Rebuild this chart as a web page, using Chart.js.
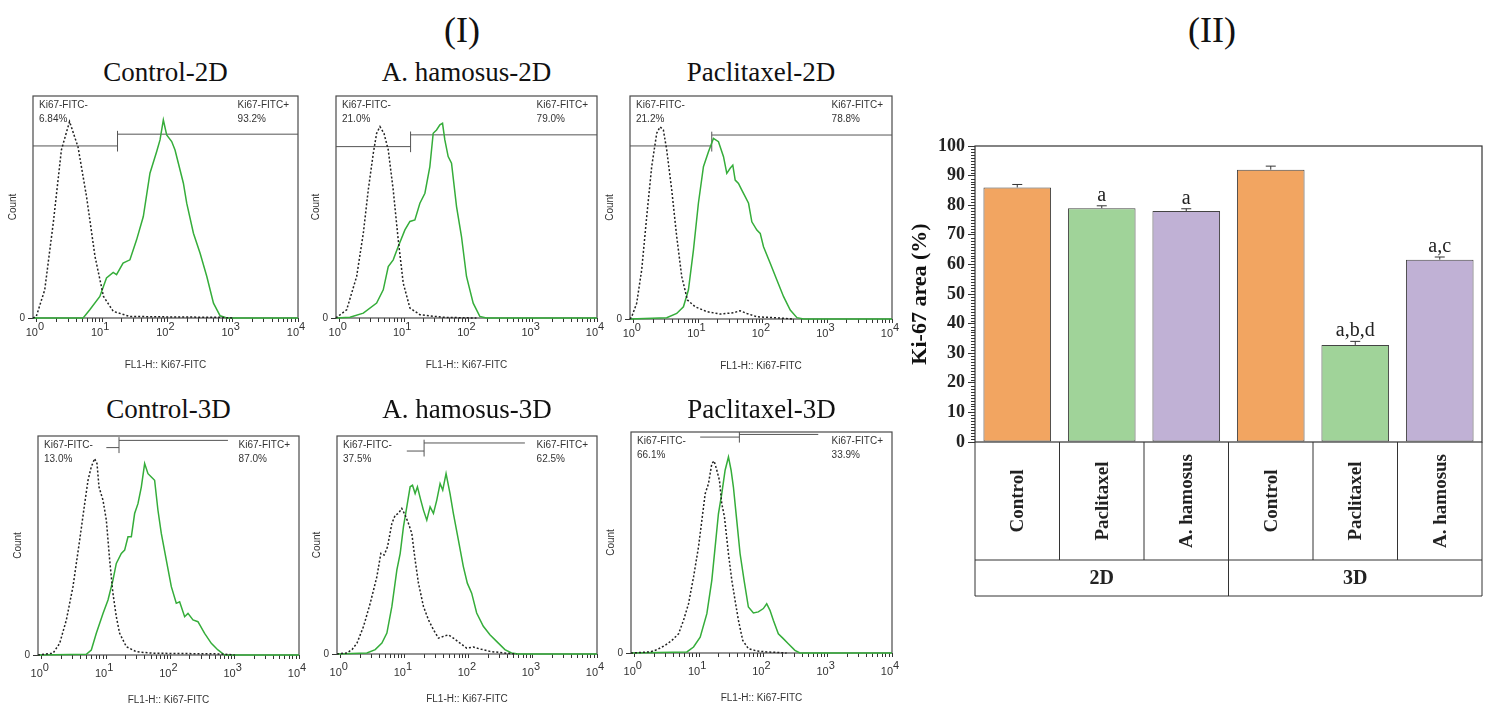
<!DOCTYPE html>
<html>
<head>
<meta charset="utf-8">
<script src="https://cdn.jsdelivr.net/npm/chart.js@4.4.0/dist/chart.umd.min.js"></script>
<style>
  body { margin: 0; background: #fff; }
  #fig { position: relative; width: 1486px; height: 709px; overflow: hidden; background: #fff; }
  #fig canvas { position: absolute; }
  .ttl { position: absolute; transform: translate(-50%, -50%); white-space: nowrap; line-height: 1;
         font-family: 'Liberation Serif', 'Times New Roman', serif; color: #111; }
</style>
</head>
<body>
<div id="fig">
  <div class="ttl" style="left:462px;top:30px;font-size:36px">(I)</div>
  <div class="ttl" style="left:1212px;top:30px;font-size:36px">(II)</div>
</div>
<script>
const serif = "'Liberation Serif', 'Times New Roman', serif";
const sans = "'Liberation Sans', Arial, sans-serif";

// ---- (I) flow cytometry histograms: x = log10(FL1-H), y = % of panel max count ----
const histTitles = ['Control-2D', 'A. hamosus-2D', 'Paclitaxel-2D', 'Control-3D', 'A. hamosus-3D', 'Paclitaxel-3D'];
const negPercents = ['6.84%', '21.0%', '21.2%', '13.0%', '37.5%', '66.1%'];
const posPercents = ['93.2%', '79.0%', '78.8%', '87.0%', '62.5%', '33.9%'];
const decadeExps = ['0', '1', '2', '3', '4'];

// isotype (dotted black) curves
const ctrl2dIso = [[-0.06,0],[-0.01,0.7],[0.12,12.7],[0.25,42.7],[0.375,75.7],[0.5,88.5],[0.63,77],[0.76,54.7],[0.89,27.7],[1.02,9.7],[1.17,3],[1.42,0.7],[2.0,0.5],[2.81,0.3],[3.0,0]];
const hamo2dIso = [[-0.06,0],[-0.05,0.3],[0.106,3.7],[0.261,18.7],[0.365,38.2],[0.442,57.7],[0.52,74.2],[0.572,83.2],[0.624,86.2],[0.686,83.2],[0.753,75.7],[0.83,57.7],[0.908,35.2],[0.986,15.7],[1.09,4.5],[1.245,1.5],[1.607,0.3],[2.125,0]];
const pacl2dIso = [[-0.06,0],[-0.034,1],[0.043,7],[0.121,22],[0.199,45.9],[0.276,68.3],[0.354,83.3],[0.406,86.2],[0.457,84.8],[0.509,75.8],[0.587,57.8],[0.664,36.9],[0.742,19],[0.83,8.5],[0.949,5.5],[1.13,3.3],[1.337,2.2],[1.544,2.8],[1.647,3.7],[1.751,2.5],[1.906,1],[2.165,0.6],[2.475,0]];
const ctrl3dIso = [[-0.06,0],[0.173,0.8],[0.277,5.3],[0.381,16],[0.484,31.2],[0.588,52.4],[0.666,69.1],[0.718,79.8],[0.769,85.9],[0.821,89.7],[0.858,87.4],[0.889,76.7],[0.951,70.7],[1.003,61.6],[1.055,43.3],[1.106,28.1],[1.158,17.5],[1.21,9.9],[1.314,3.8],[1.469,1.5],[1.728,0.8],[2.765,0.5],[3.0,0]];
const hamo3dIso = [[-0.06,0],[0.096,0.5],[0.174,2],[0.252,5],[0.355,12.7],[0.459,23.3],[0.563,35.5],[0.625,46.2],[0.677,45.4],[0.729,49.2],[0.797,59.9],[0.849,63.7],[0.9,64.5],[0.952,66.8],[1.004,63.7],[1.056,59.9],[1.108,55.3],[1.16,43.1],[1.212,32.5],[1.29,21.8],[1.368,15.7],[1.446,11.1],[1.524,7.3],[1.601,8.1],[1.679,8.8],[1.757,7.3],[1.861,5],[1.965,2.7],[2.069,3.2],[2.173,2.3],[2.328,1.2],[2.536,0.5],[2.744,0]];
const pacl3dIso = [[-0.06,0],[0.24,0.5],[0.344,1.5],[0.473,3.5],[0.576,5.7],[0.68,8.7],[0.757,14.8],[0.835,22.3],[0.913,34.4],[0.99,48],[1.042,60],[1.094,72.1],[1.145,76.6],[1.197,85.7],[1.233,86.9],[1.275,82.7],[1.316,78.1],[1.352,67.6],[1.394,61.5],[1.456,44.9],[1.508,32.9],[1.559,23.8],[1.611,14.8],[1.678,5.7],[1.766,2],[1.896,0.9],[2.051,0.5],[2.361,0]];

// Ki67-FITC (green) curves
const ctrl2dFitc = [[-0.06,0],[0.708,0],[0.81,3.7],[0.964,9.7],[1.066,18],[1.169,20.5],[1.22,19.5],[1.32,24.7],[1.425,26.2],[1.527,35.2],[1.63,45.7],[1.732,65.2],[1.835,75],[1.886,80.2],[1.937,89.2],[1.988,82.5],[2.065,79.5],[2.116,75.7],[2.244,60.7],[2.295,51.7],[2.398,38.2],[2.5,29.2],[2.603,18.7],[2.705,6.7],[2.807,1],[2.91,0],[4,0]];
const hamo2dFitc = [[-0.06,0],[0.157,0.3],[0.365,2.2],[0.572,6.7],[0.675,12.7],[0.753,23.2],[0.83,26.2],[0.908,32.2],[1.012,39.7],[1.09,43.5],[1.167,44.2],[1.245,51.7],[1.323,56.2],[1.4,68.2],[1.452,83.2],[1.504,84.7],[1.556,87],[1.597,87.7],[1.633,80.2],[1.685,72.7],[1.737,69.7],[1.815,50.2],[1.892,36.7],[1.97,18.7],[2.074,6.7],[2.177,0.7],[2.28,0],[4,0]];
const pacl2dFitc = [[-0.06,0],[0.509,0.6],[0.664,2.5],[0.768,5.5],[0.845,13],[0.923,30.9],[1.0,51.9],[1.078,68.3],[1.156,75],[1.233,81],[1.311,79.5],[1.389,72.8],[1.44,65.3],[1.492,67.6],[1.533,69],[1.57,62.3],[1.621,60.8],[1.673,57.8],[1.725,54.9],[1.777,51.9],[1.828,43.6],[1.906,39.9],[1.958,38.4],[2.009,32.4],[2.113,25],[2.216,17.5],[2.32,10],[2.423,4],[2.527,0.6],[2.63,0],[4,0]];
const ctrl3dFitc = [[-0.06,0],[0.692,0.3],[0.769,2.3],[0.847,9.9],[0.951,19],[1.029,25.1],[1.106,34.2],[1.158,41.8],[1.236,46.4],[1.288,47.9],[1.34,54],[1.392,54],[1.443,64.6],[1.495,69.1],[1.547,76.7],[1.599,87.4],[1.651,82.8],[1.703,81.3],[1.754,79.8],[1.806,66.1],[1.858,55.5],[1.936,43.3],[2.014,31.2],[2.091,23.6],[2.143,24.3],[2.221,17.5],[2.273,19],[2.351,16],[2.428,15.2],[2.532,9.9],[2.636,5.3],[2.739,2.3],[2.843,0],[4,0]];
const hamo3dFitc = [[-0.06,0],[0.407,0.5],[0.537,2],[0.641,5],[0.719,9.6],[0.797,21.8],[0.875,38.6],[0.927,46.2],[0.978,58.4],[1.03,67.5],[1.082,76.7],[1.119,77.4],[1.16,73.6],[1.196,76.7],[1.248,70.6],[1.29,66],[1.342,61.4],[1.394,67.5],[1.446,64.5],[1.498,70.6],[1.55,78.2],[1.591,75.2],[1.643,82.8],[1.705,73.6],[1.757,64.5],[1.835,52.3],[1.913,40.1],[1.975,32.5],[2.043,27.9],[2.121,18.8],[2.225,12.7],[2.328,8.8],[2.432,5.8],[2.562,2],[2.666,0.5],[2.77,0],[4,0]];
const pacl3dFitc = [[-0.06,0],[0.809,0.5],[0.913,2.7],[1.016,7.2],[1.12,17.8],[1.197,32.9],[1.249,48],[1.3,63],[1.352,72.1],[1.404,82.7],[1.456,88.7],[1.497,82.7],[1.533,75.1],[1.585,60],[1.637,44.9],[1.699,32.9],[1.766,20.8],[1.844,18.1],[1.921,18.6],[1.999,20.1],[2.051,22.3],[2.102,19.3],[2.154,14.8],[2.232,8.7],[2.309,6.5],[2.387,4.2],[2.49,1.2],[2.568,0],[4,0]];

// bisector gates (x in decades, y in % of height)
const gateX = [1.235, 1.1, 1.207, 1.2, 1.3, 1.626];
const gateNegY = [77.5, 77.2, 77.6, 94.7, 93.1, 97.7];
const gatePosY = [82.8, 82.5, 82.5, 98, 96.8, 98.9];
const gateNegStart = [-0.06, -0.06, -0.06, 1.003, 1.03, 1.016];
const gatePosEnd = [4, 4, 4, 2.895, 2.874, 2.853];

// ---- (II) Ki-67 bar chart ----
const barLabels = ['Control', 'Paclitaxel', 'A. hamosus', 'Control', 'Paclitaxel', 'A. hamosus'];
const groupLabels = ['2D', '3D'];
const groupSizes = [3, 3];
const kiValues = [86, 79, 78, 92, 32.8, 61.6];
const kiErrors = [1, 0.8, 0.8, 1.2, 1.2, 0.9];
const sigLetters = ['', 'a', 'a', '', 'a,b,d', 'a,c'];
const barColors = ['#f2a561', '#a0d399', '#c0b1d5', '#f2a561', '#a0d399', '#c0b1d5'];

// ---- layout ----
const panelBoxes = [
  { left: 33, top: 96, w: 265, h: 222, row: 0 },
  { left: 336, top: 96, w: 261, h: 222, row: 0 },
  { left: 630, top: 96, w: 262, h: 223, row: 0 },
  { left: 38, top: 436, w: 261, h: 219, row: 1 },
  { left: 337, top: 436, w: 260, h: 218, row: 1 },
  { left: 631, top: 432, w: 261, h: 221, row: 1 }
];
const titleY = [72, 409];
const isoCurves = [ctrl2dIso, hamo2dIso, pacl2dIso, ctrl3dIso, hamo3dIso, pacl3dIso];
const fitcCurves = [ctrl2dFitc, hamo2dFitc, pacl2dFitc, ctrl3dFitc, hamo3dFitc, pacl3dFitc];

const fig = document.getElementById('fig');
const pts = arr => arr.map(p => ({ x: p[0], y: p[1] }));

// log-axis tick positions: decades plus 2..9 within each decade
const logTicks = [];
decadeExps.forEach((e, n) => {
  logTicks.push(n);
  if (n < 4) for (let k = 2; k <= 9; k++) logTicks.push(n + Math.log10(k));
});

const flowPanel = {
  id: 'flowPanel',
  beforeDatasetsDraw(chart) {
    const { ctx, chartArea: a } = chart;
    ctx.save();
    ctx.strokeStyle = '#4a4a4a';
    ctx.lineWidth = 1.2;
    ctx.strokeRect(a.left, a.top, a.right - a.left, a.bottom - a.top);
    ctx.restore();
  },
  afterDraw(chart, args, opts) {
    const { ctx, chartArea: a, scales: { x } } = chart;
    ctx.save();
    ctx.fillStyle = '#333';
    ctx.font = '10px ' + sans;
    ctx.textBaseline = 'middle';
    ctx.textAlign = 'left';
    ctx.fillText('Ki67-FITC-', a.left + 6, a.top + 9);
    ctx.fillText(opts.neg, a.left + 6, a.top + 23);
    const w = ctx.measureText('Ki67-FITC+').width;
    ctx.fillText('Ki67-FITC+', a.right - 9 - w, a.top + 9);
    ctx.fillText(opts.pos, a.right - 9 - w, a.top + 23);
    // decade labels 10^n
    ctx.font = '11px ' + sans;
    ctx.textBaseline = 'alphabetic';
    decadeExps.forEach((e, n) => {
      const px = x.getPixelForValue(n);
      ctx.textAlign = 'right';
      ctx.fillText('10', px + 1, a.bottom + opts.lblDy);
      ctx.textAlign = 'left';
      ctx.fillText(e, px + 1, a.bottom + opts.lblDy - 6);
    });
    ctx.restore();
  }
};

panelBoxes.forEach((b, i) => {
  const t = document.createElement('div');
  t.className = 'ttl';
  t.style.left = (b.left + b.w / 2) + 'px';
  t.style.top = titleY[b.row] + 'px';
  t.style.fontSize = '27px';
  t.textContent = histTitles[i];
  fig.appendChild(t);

  const cv = document.createElement('canvas');
  cv.width = b.w + 52;
  cv.height = b.h + 70;
  cv.style.left = (b.left - 40) + 'px';
  cv.style.top = (b.top - 10) + 'px';
  fig.appendChild(cv);

  const lo = gateNegY[i] - 2.5, hi = gatePosY[i] + 1.5;
  const gateStyle = { borderColor: '#555', borderWidth: 1, pointRadius: 0, fill: false };

  new Chart(cv, {
    type: 'line',
    data: {
      datasets: [
        { data: pts(isoCurves[i]), borderColor: '#222', borderWidth: 1.5, borderDash: [2, 2], pointRadius: 0, clip: 2 },
        { data: pts(fitcCurves[i]), borderColor: '#35ad3a', borderWidth: 1.5, pointRadius: 0, clip: 2 },
        Object.assign({ data: pts([[gateNegStart[i], gateNegY[i]], [gateX[i], gateNegY[i]]]) }, gateStyle),
        Object.assign({ data: pts([[gateX[i], gatePosY[i]], [gatePosEnd[i], gatePosY[i]]]) }, gateStyle),
        Object.assign({ data: pts([[gateX[i], lo], [gateX[i], hi]]) }, gateStyle)
      ]
    },
    options: {
      responsive: false,
      animation: false,
      events: [],
      layout: { padding: { top: 10, right: 12, left: 0, bottom: 0 } },
      plugins: {
        legend: { display: false },
        tooltip: { enabled: false },
        flowPanel: { neg: negPercents[i], pos: posPercents[i], lblDy: b.row ? 22 : 18 }
      },
      scales: {
        x: {
          type: 'linear', min: -0.06, max: 4,
          afterBuildTicks: s => { s.ticks = logTicks.map(v => ({ value: v })); },
          afterFit: s => { s.height = 60; },
          ticks: { display: false },
          grid: { drawOnChartArea: false, tickLength: 4, color: '#333' },
          border: { display: false },
          title: { display: true, text: 'FL1-H:: Ki67-FITC', color: '#333',
                   font: { family: sans, size: 10 }, padding: { top: 0, bottom: b.row ? 9 : 7 } }
        },
        y: {
          min: 0, max: 100,
          afterBuildTicks: s => { s.ticks = [{ value: 0 }]; },
          afterFit: s => { s.width = 40; },
          ticks: { color: '#333', font: { family: sans, size: 10 }, padding: 3 },
          grid: { drawOnChartArea: false, tickLength: 5, color: '#333' },
          border: { display: false },
          title: { display: true, text: 'Count', color: '#333',
                   font: { family: sans, size: 10 }, padding: { top: 14, bottom: 0 } }
        }
      }
    },
    plugins: [flowPanel]
  });
});

// ---- bar chart ----
const kiPanel = {
  id: 'kiPanel',
  afterDraw(chart) {
    const { ctx, chartArea: a, scales: { x, y } } = chart;
    ctx.save();
    ctx.strokeStyle = '#333';
    ctx.lineWidth = 1.2;
    ctx.strokeRect(a.left, a.top, a.right - a.left, a.bottom - a.top);

    // minor ticks every 1 %
    ctx.lineWidth = 1;
    ctx.beginPath();
    for (let v = 1; v < 100; v++) {
      if (v % 10 === 0) continue;
      const py = Math.round(y.getPixelForValue(v)) + 0.5;
      ctx.moveTo(a.left - 4, py);
      ctx.lineTo(a.left, py);
    }
    ctx.stroke();

    // error bars and significance letters
    ctx.fillStyle = '#222';
    ctx.font = '20px ' + serif;
    ctx.textAlign = 'center';
    ctx.textBaseline = 'alphabetic';
    kiValues.forEach((v, i) => {
      const px = x.getPixelForValue(i);
      const top = y.getPixelForValue(v + kiErrors[i]);
      ctx.beginPath();
      ctx.moveTo(px, y.getPixelForValue(v));
      ctx.lineTo(px, top);
      ctx.moveTo(px - 5, top);
      ctx.lineTo(px + 5, top);
      ctx.stroke();
      if (sigLetters[i]) ctx.fillText(sigLetters[i], px, top - 5);
    });

    // category table below the axis
    const r0 = a.bottom, r1 = a.bottom + 118, r2 = a.bottom + 154;
    const edge = k => k === 0 ? a.left : k === barLabels.length ? a.right
      : (x.getPixelForValue(k - 1) + x.getPixelForValue(k)) / 2;
    ctx.beginPath();
    ctx.moveTo(a.left, r1); ctx.lineTo(a.right, r1);
    ctx.moveTo(a.left, r2); ctx.lineTo(a.right, r2);
    for (let k = 0; k <= barLabels.length; k++) {
      ctx.moveTo(edge(k), r0); ctx.lineTo(edge(k), r1);
    }
    let k = 0;
    ctx.moveTo(edge(0), r1); ctx.lineTo(edge(0), r2);
    groupSizes.forEach(n => { k += n; ctx.moveTo(edge(k), r1); ctx.lineTo(edge(k), r2); });
    ctx.stroke();

    ctx.font = 'bold 19px ' + serif;
    ctx.textBaseline = 'middle';
    barLabels.forEach((lab, i) => {
      ctx.save();
      ctx.translate(x.getPixelForValue(i), (r0 + r1) / 2);
      ctx.rotate(-Math.PI / 2);
      ctx.fillText(lab, 0, 1);
      ctx.restore();
    });
    ctx.font = 'bold 20px ' + serif;
    let start = 0;
    groupLabels.forEach((g, gi) => {
      const end = start + groupSizes[gi];
      ctx.fillText(g, (edge(start) + edge(end)) / 2, (r1 + r2) / 2 + 1);
      start = end;
    });
    ctx.restore();
  }
};

const barCv = document.createElement('canvas');
barCv.width = 610;
barCv.height = 480;
barCv.style.left = '880px';
barCv.style.top = '130px';
fig.appendChild(barCv);

new Chart(barCv, {
  type: 'bar',
  data: {
    labels: barLabels,
    datasets: [{
      data: kiValues,
      backgroundColor: barColors,
      borderColor: '#444',
      borderWidth: 1,
      borderSkipped: false,
      barPercentage: 0.8,
      categoryPercentage: 1.0
    }]
  },
  options: {
    responsive: false,
    animation: false,
    events: [],
    layout: { padding: { top: 16, right: 8, left: 0, bottom: 168 } },
    plugins: { legend: { display: false }, tooltip: { enabled: false } },
    scales: {
      x: { display: false },
      y: {
        min: 0, max: 100,
        afterFit: s => { s.width = 95; },
        ticks: { stepSize: 10, color: '#222', font: { family: serif, size: 18, weight: 'bold' }, padding: 3 },
        grid: { drawOnChartArea: false, tickLength: 7, color: '#333' },
        border: { display: false },
        title: { display: true, text: 'Ki-67 area (%)', color: '#111',
                 font: { family: serif, size: 22, weight: 'bold' }, padding: { top: 27, bottom: 0 } }
      }
    }
  },
  plugins: [kiPanel]
});
</script>
</body>
</html>
